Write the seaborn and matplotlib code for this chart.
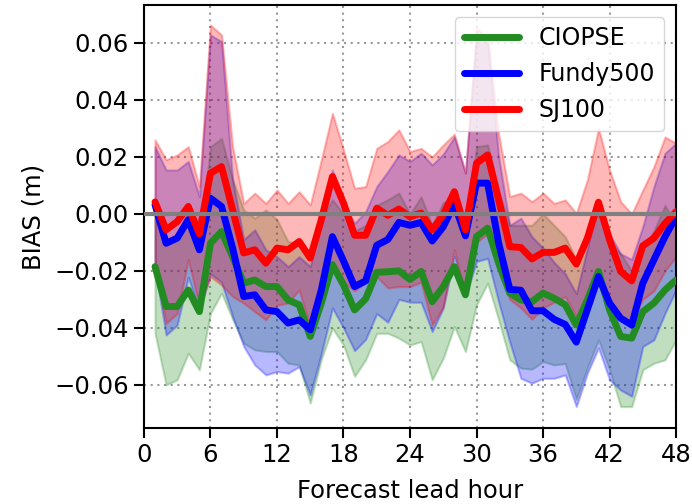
import numpy as np
import pandas as pd
import matplotlib
matplotlib.use("Agg")
import matplotlib.pyplot as plt
import seaborn as sns

hours = list(range(1, 49))

ciopse = [-0.0185, -0.0325, -0.0325, -0.0267, -0.0343, -0.0103, -0.0062, -0.015,
          -0.0243, -0.0232, -0.0255, -0.0255, -0.0302, -0.0319, -0.043, -0.0313,
          -0.0178, -0.0249, -0.0337, -0.0298, -0.0205, -0.0203, -0.0200, -0.0230,
          -0.0202, -0.0308, -0.0255, -0.0185, -0.0284, -0.008, -0.005, -0.0173,
          -0.0278, -0.0302, -0.0308, -0.0278, -0.0296, -0.0319, -0.039, -0.0302,
          -0.0202, -0.0337, -0.043, -0.0436, -0.0343, -0.0313, -0.0267, -0.0232]
ciopse_hi = [0.002, -0.010, -0.008, -0.001, -0.012, 0.0236, 0.0265, 0.012,
             0.0014, -0.0015, 0.0014, -0.002, -0.0097, -0.0103, -0.016, -0.002,
             0.005, 0.0, -0.006, -0.004, 0.003, 0.005, 0.0073, 0.0,
             0.006, -0.004, 0.004, 0.006, -0.004, 0.0236, 0.0242, 0.008,
             -0.004, -0.004, -0.004, 0.0, -0.004, -0.008, -0.016, -0.006,
             0.0, -0.010, -0.014, -0.020, -0.012, -0.006, 0.003, -0.004]
ciopse_lo = [-0.0419, -0.060, -0.0582, -0.0489, -0.0547, -0.0349, -0.0278, -0.037,
             -0.0454, -0.0477, -0.0483, -0.0483, -0.0524, -0.053, -0.0664, -0.051,
             -0.0401, -0.046, -0.057, -0.0512, -0.0419, -0.0419, -0.0436, -0.046,
             -0.0448, -0.0582, -0.0506, -0.0395, -0.0483, -0.0319, -0.0243, -0.0372,
             -0.0512, -0.0541, -0.0545, -0.0518, -0.053, -0.0525, -0.065, -0.054,
             -0.0442, -0.0547, -0.0676, -0.0676, -0.0547, -0.0524, -0.0512, -0.0442]

fundy = [0.0032, -0.0103, -0.0085, -0.002, -0.0126, 0.0055, 0.0026, -0.012,
         -0.029, -0.0284, -0.0337, -0.0343, -0.0383, -0.0372, -0.0407, -0.0267,
         -0.008, -0.0165, -0.0255, -0.0235, -0.011, -0.009, -0.003, -0.004,
         -0.003, -0.0095, -0.0045, 0.0035, -0.0077, 0.0108, 0.0108, -0.0103,
         -0.0265, -0.0268, -0.034, -0.034, -0.037, -0.0388, -0.045, -0.0335,
         -0.022, -0.0313, -0.0366, -0.039, -0.0243, -0.0161, -0.008, -0.001]
fundy_hi = [0.0236, 0.0154, 0.0154, 0.0184, 0.0061, 0.0628, 0.0605, 0.012,
            -0.009, -0.0056, -0.0126, -0.015, -0.0185, -0.015, -0.0185, -0.002,
            0.0154, 0.004, -0.0033, 0.0008, 0.0096, 0.0149, 0.0207, 0.0184,
            0.0213, 0.0172, 0.021, 0.027, 0.0143, 0.063, 0.060, 0.020,
            -0.004, -0.0015, -0.008, -0.012, -0.017, -0.021, -0.028, -0.012,
            0.004, -0.007, -0.014, -0.016, -0.0044, 0.0096, 0.0213, 0.0248]
fundy_lo = [-0.019, -0.0425, -0.039, -0.0222, -0.034, -0.021, -0.024, -0.036,
            -0.0465, -0.053, -0.0565, -0.0553, -0.0559, -0.0536, -0.0635, -0.049,
            -0.033, -0.040, -0.048, -0.044, -0.035, -0.038, -0.030, -0.031,
            -0.031, -0.0413, -0.033, -0.015, -0.029, -0.0167, -0.0156, -0.031,
            -0.045, -0.0577, -0.0594, -0.0577, -0.0577, -0.0565, -0.0676, -0.0559,
            -0.047, -0.0582, -0.0618, -0.064, -0.0465, -0.0442, -0.0349, -0.0267]

sj100 = [0.0042, -0.0056, -0.0027, 0.0026, -0.007, 0.0143, 0.0166, 0.0014,
         -0.0137, -0.0126, -0.0173, -0.012, -0.0126, -0.0097, -0.0155, -0.002,
         0.0131, 0.0038, -0.0075, -0.0075, 0.002, -0.0005, 0.0017, -0.001,
         0.0003, -0.0056, -0.0003, 0.0078, -0.0056, 0.0178, 0.0207, 0.0049,
         -0.0115, -0.0118, -0.0158, -0.0135, -0.0135, -0.012, -0.0176, -0.0085,
         0.0041, -0.0091, -0.0202, -0.0235, -0.0112, -0.0085, -0.0033, 0.0008]
sj100_hi = [0.026, 0.019, 0.0207, 0.0236, 0.0096, 0.0663, 0.0628, 0.0235,
            0.0037, 0.0073, 0.0037, 0.0084, 0.0037, 0.0078, 0.0032, 0.019,
            0.0353, 0.0225, 0.009, 0.0096, 0.023, 0.0254, 0.0295, 0.0219,
            0.023, 0.020, 0.0242, 0.028, 0.0144, 0.065, 0.062, 0.028,
            0.0061, 0.0073, 0.0043, 0.0073, 0.0037, 0.0049, 0.0002, 0.012,
            0.030, 0.0154, 0.0043, 0.0, 0.0084, 0.0166, 0.027, 0.0248]
sj100_lo = [-0.019, -0.0384, -0.035, -0.016, -0.0325, -0.022, -0.025, -0.029,
            -0.0313, -0.0343, -0.0372, -0.032, -0.0313, -0.0267, -0.040, -0.030,
            -0.019, -0.024, -0.027, -0.024, -0.022, -0.026, -0.0255, -0.0255,
            -0.024, -0.039, -0.0325, -0.0126, -0.029, -0.010, -0.007, -0.020,
            -0.030, -0.033, -0.037, -0.033, -0.031, -0.029, -0.036, -0.031,
            -0.020, -0.030, -0.037, -0.038, -0.030, -0.027, -0.020, -0.015]

names = ["CIOPSE", "Fundy500", "SJ100"]
colors = ["forestgreen", "blue", "red"]
his = [ciopse_hi, fundy_hi, sj100_hi]
los = [ciopse_lo, fundy_lo, sj100_lo]
xticks = list(range(0, 49, 6))
yticks = [-0.06, -0.04, -0.02, 0.0, 0.02, 0.04, 0.06]
yticklabels = ["\u22120.06", "\u22120.04", "\u22120.02", "0.00", "0.02", "0.04", "0.06"]

df = pd.DataFrame({
    "hour": hours * 3,
    "bias": ciopse + fundy + sj100,
    "model": [n for n in names for _ in hours],
})

sns.set_style("ticks")
plt.rcParams["font.family"] = ["DejaVu Sans"]
plt.rcParams["text.color"] = "black"
plt.rcParams["axes.labelcolor"] = "black"
plt.rcParams["xtick.color"] = "black"
plt.rcParams["ytick.color"] = "black"

FS = 17.5

fig = plt.figure(figsize=(6.92, 5.04), dpi=100)
ax = fig.add_axes([0.208, 0.151, 0.769, 0.839])

for c, lo, hi in zip(colors, los, his):
    ax.fill_between(hours, lo, hi, color=c, alpha=0.28, linewidth=1.5)

sns.lineplot(data=df, x="hour", y="bias", hue="model", hue_order=names,
             palette=dict(zip(names, colors)), linewidth=5, ax=ax, zorder=3)

ax.axhline(0, color="gray", linewidth=3, zorder=4)

ax.set_xlim(0, 48)
ax.set_ylim(-0.0751, 0.0733)
ax.set_xticks(xticks)
ax.set_yticks(yticks)
ax.set_yticklabels(yticklabels)
ax.grid(True, linestyle=(0, (1, 2.2)), color="gray", alpha=0.8, linewidth=1.5)
ax.tick_params(labelsize=FS, length=7, width=1.5, direction="out", pad=4)
ax.set_xlabel("Forecast lead hour", fontsize=FS, labelpad=8.5)
ax.set_ylabel("BIAS (m)", fontsize=FS, labelpad=6)
for s in ax.spines.values():
    s.set_color("black")
    s.set_linewidth(1.5)

leg = ax.legend(loc="upper right", fontsize=17, handlelength=2.35,
                framealpha=0.8, borderaxespad=0.5, labelspacing=0.5)
for line in leg.get_lines():
    line.set_linewidth(5)

fig.savefig("out.png", dpi=100)
